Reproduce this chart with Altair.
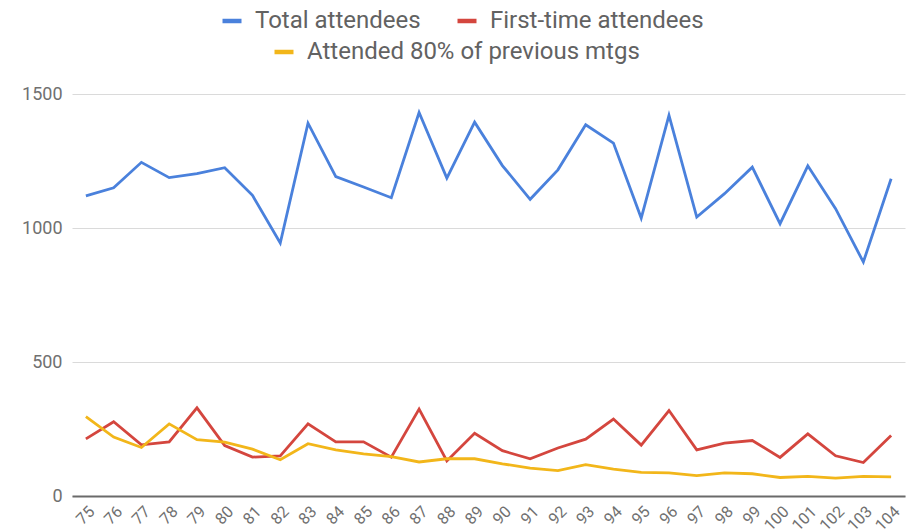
import altair as alt
import pandas as pd

# Meeting numbers along the x axis
meetings = ["75", "76", "77", "78", "79", "80", "81", "82", "83", "84",
            "85", "86", "87", "88", "89", "90", "91", "92", "93", "94",
            "95", "96", "97", "98", "99", "100", "101", "102", "103", "104"]

total_attendees = [1120, 1150, 1245, 1188, 1203, 1225, 1122, 944, 1391, 1192,
                   1153, 1113, 1431, 1186, 1395, 1233, 1107, 1217, 1385, 1317,
                   1037, 1420, 1041, 1128, 1227, 1016, 1232, 1072, 873, 1184]

first_time = [213, 277, 191, 202, 329, 188, 145, 150, 269, 202,
              202, 145, 324, 131, 234, 169, 139, 179, 212, 287,
              190, 319, 172, 197, 207, 144, 232, 150, 125, 226]

attended_80 = [296, 220, 181, 269, 210, 201, 175, 135, 195, 172,
               157, 147, 127, 139, 139, 120, 104, 95, 117, 100,
               88, 86, 76, 86, 83, 69, 73, 67, 73, 71]

series_names = ["Total attendees", "First-time attendees", "Attended 80% of previous mtgs"]
series_colors = ["#4a81dc", "#d4463e", "#f2b61a"]

FONT = "Roboto"
LABEL_GREY = "#707070"

main_df = pd.DataFrame({
    "mtg": meetings * 2,
    "value": total_attendees + first_time,
    "series": [series_names[0]] * len(meetings) + [series_names[1]] * len(meetings),
})
regular_df = pd.DataFrame({
    "mtg": meetings,
    "value": attended_80,
    "series": [series_names[2]] * len(meetings),
})

x_enc = alt.X(
    "mtg:O",
    sort=meetings,
    title=None,
    scale=alt.Scale(type="point", padding=0.5),
    axis=alt.Axis(
        labelAngle=315,
        labelFont=FONT,
        labelFontSize=16,
        labelColor=LABEL_GREY,
        labelPadding=7,
        ticks=False,
        domainColor="#6a6a6a",
        domainWidth=2,
        grid=False,
    ),
)

y_enc = alt.Y(
    "value:Q",
    title=None,
    scale=alt.Scale(domain=[0, 1500], nice=False),
    axis=alt.Axis(
        values=[0, 500, 1000, 1500],
        format="d",
        labelFont=FONT,
        labelFontSize=18,
        labelColor=LABEL_GREY,
        labelPadding=10,
        ticks=False,
        domain=False,
        gridColor="#dadada",
        gridWidth=1,
    ),
)


def legend_at(x, y):
    return alt.Legend(
        title=None,
        orient="none",
        legendX=x,
        legendY=y,
        direction="horizontal",
        symbolType="stroke",
        symbolSize=361,
        symbolStrokeWidth=4.5,
        labelFont=FONT,
        labelFontSize=24,
        labelColor="#626262",
        labelOffset=11,
        labelLimit=0,
        columnPadding=27,
        padding=0,
    )


main_lines = alt.Chart(main_df).mark_line(strokeWidth=2.8).encode(
    x=x_enc,
    y=y_enc,
    color=alt.Color(
        "series:N",
        scale=alt.Scale(domain=series_names[:2], range=series_colors[:2]),
        legend=legend_at(148, -85),
    ),
)

regular_line = alt.Chart(regular_df).mark_line(strokeWidth=2.8).encode(
    x=x_enc,
    y=y_enc,
    color=alt.Color(
        "series:N",
        scale=alt.Scale(domain=series_names[2:], range=series_colors[2:]),
        legend=legend_at(200, -54),
    ),
)

chart = (
    alt.layer(main_lines, regular_line)
    .resolve_scale(color="independent")
    .properties(
        width=833,
        height=402,
        padding={"left": 72, "top": 94, "right": 5, "bottom": 35},
        autosize=alt.AutoSizeParams(type="none"),
        background="white",
    )
    .configure_view(stroke=None)
)

chart.save("out.html", embed_options={"renderer": "svg", "actions": False})
